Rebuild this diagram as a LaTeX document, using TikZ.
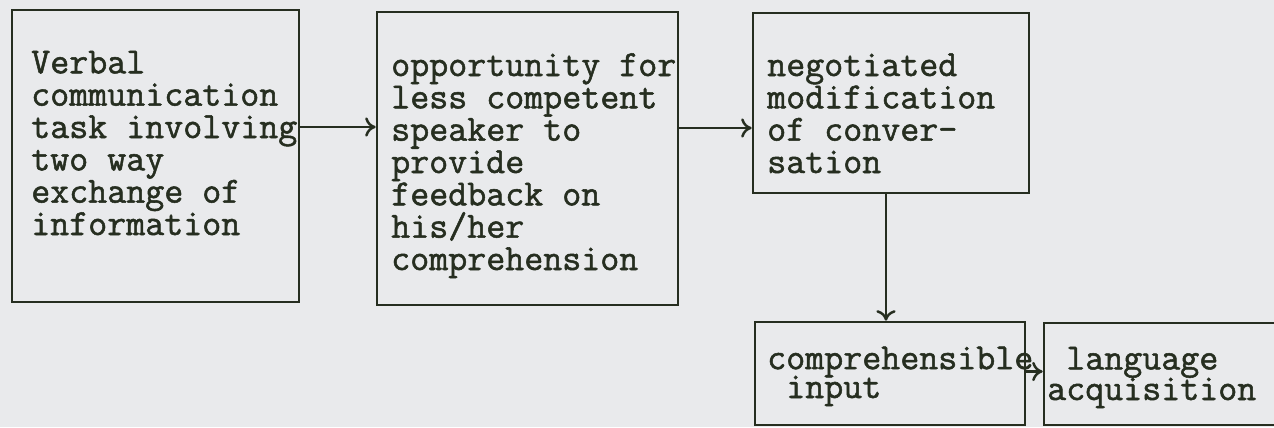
\documentclass[tikz,border=0pt]{standalone}
\usepackage{fontspec}
\usepackage{tikz}
\usetikzlibrary{arrows.meta}
\newfontfamily\typer{Latin Modern Mono}[FakeBold=1.4]
\definecolor{ink}{RGB}{38,46,32}
\definecolor{paper}{RGB}{233,234,236}

\tikzset{
  frame/.style={draw=ink, line width=1.5pt, inner sep=0pt},
  txt/.style={anchor=base west, align=left, inner sep=0pt, text=ink,
    font=\typer\fontsize{21pt}{18.4pt}\selectfont},
}

\begin{document}
\begin{tikzpicture}[>={To[length=6pt,width=11pt]}, line width=1.4pt, draw=ink]
    \useasboundingbox[fill=paper] (0,0) rectangle (25.48,-8.54);

    \node[frame, minimum width=5.74cm, minimum height=5.84cm] (task) at (3.11,-3.12) {};
    \node[frame, minimum width=6.02cm, minimum height=5.86cm] (opp) at (10.55,-3.17) {};
    \node[frame, minimum width=5.52cm, minimum height=3.60cm] (neg) at (17.82,-2.06) {};
    \node[frame, minimum width=5.40cm, minimum height=2.06cm] (input) at (17.80,-7.47) {};
    \node[frame, minimum width=4.92cm, minimum height=2.04cm] (acq) at (23.34,-7.48) {};

    \node[txt] (taskT) at (0.60,-4.70) {Verbal\\communication\\task involving\\two way\\exchange of\\information};
    \node[txt] (oppT) at (7.80,-5.40) {opportunity for\\less competent\\speaker to\\provide\\feedback on\\his/her\\comprehension};
    \node[txt] (negT) at (15.32,-3.46) {negotiated\\modification\\of conver-\\sation};
    \node[txt] (inputT) at (15.32,-7.96) {comprehensible\\[-2pt]~input};
    \node[txt] (acqT) at (20.92,-8.00) {~language\\[-1pt]acquisition};

    \draw[->] ([yshift=5.8mm]task.east) -- ([yshift=5.8mm]task.east -| opp.west);
    \draw[->] ([yshift=6.1mm]opp.east) -- ([yshift=6.1mm]opp.east -| neg.west);
    \draw[->] ([xshift=-1mm]neg.south) -- ([xshift=-1mm]neg.south |- input.north);
    \draw[->] ([yshift=0.4mm]input.east) -- ([yshift=0.4mm]input.east -| acq.west);
\end{tikzpicture}
\end{document}
